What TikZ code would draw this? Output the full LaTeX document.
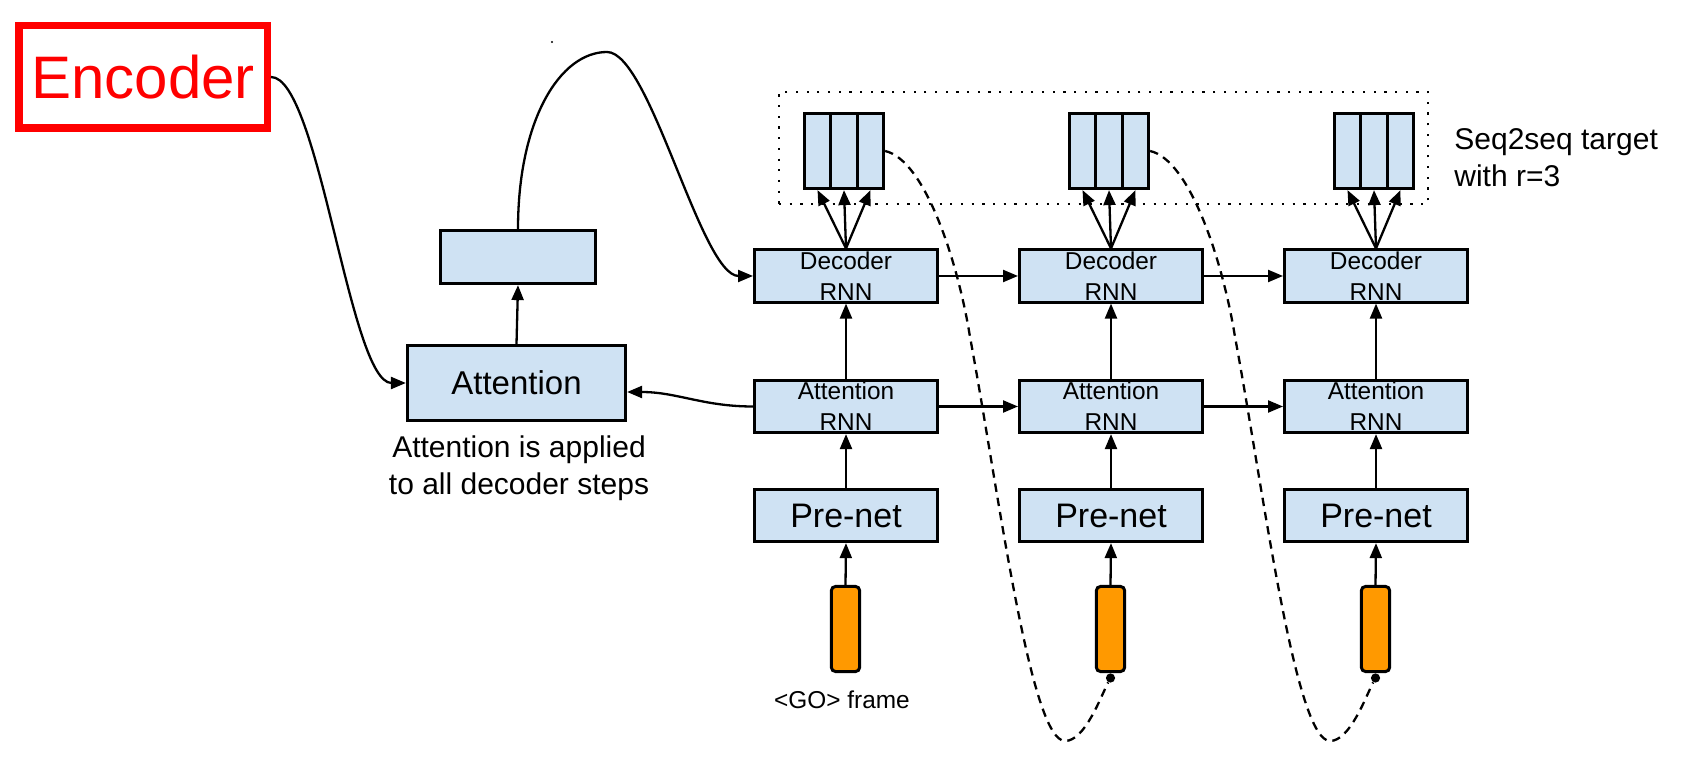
\documentclass[tikz,border=0pt]{standalone}
\usepackage{fontspec}
\setmainfont{Liberation Sans}
\usetikzlibrary{arrows.meta}
\definecolor{boxblue}{HTML}{CFE2F3}
\definecolor{frameorange}{HTML}{FF9900}
\definecolor{encred}{HTML}{FF0000}
\newcommand\decfnt{\fontsize{12.2}{15.5}\selectfont}
\newcommand\prefnt{\fontsize{17}{20}\selectfont}
\begin{document}
\begin{tikzpicture}[x=0.5pt,y=-0.5pt,
  arr/.style={line width=1.15pt,-{Triangle[length=7.5pt,width=6pt]}},
  blk/.style={draw, line width=1.5pt, fill=boxblue, inner sep=0pt,
    minimum width=91.5pt, minimum height=26.1pt, align=center},
  cell/.style={draw, line width=1.5pt, fill=boxblue, inner sep=0pt,
    minimum width=13.1pt, minimum height=37.6pt},
  orng/.style={draw, line width=1.5pt, fill=frameorange, inner sep=0pt,
    rounded corners=2pt, minimum width=14.1pt, minimum height=42.5pt},
  dotn/.style={circle, fill=black, inner sep=0pt, minimum size=4.6pt},
  dsh/.style={line width=1.15pt, dash pattern=on 4.2pt off 3pt},
  tgt/.style={draw, line width=1.2pt, dash pattern=on 1.1pt off 4.25pt, inner sep=0pt},
  lbl/.style={inner sep=0pt}
]
\useasboundingbox (0,0) rectangle (1685,763);

% encoder
\node[draw=encred, line width=3.75pt, text=encred, inner sep=0pt,
  minimum width=124.25pt, minimum height=51.25pt,
  font=\fontsize{30}{34}\selectfont] (enc) at (143,77) {Encoder};

% attention and context box
\node[blk, minimum width=109.1pt, minimum height=37.6pt,
  font=\fontsize{16.5}{19}\selectfont] (att) at (516.5,383) {Attention};
\node[blk, minimum width=77.6pt, minimum height=26.6pt] (ctx) at (518,257) {};
\node[lbl, anchor=base, font=\fontsize{15}{18}\selectfont] (note1) at (519,458) {Attention is applied};
\node[lbl, anchor=base, font=\fontsize{15}{18}\selectfont] (note2) at (519,495) {to all decoder steps};

% target dotted box
\node[tgt, minimum width=324.5pt, minimum height=56pt] (tgt) at (1103.5,148) {};
\node[lbl, anchor=base west, font=\fontsize{15}{18}\selectfont] (seq1) at (1454,150) {Seq2seq target};
\node[lbl, anchor=base west, font=\fontsize{15}{18}\selectfont] (seq2) at (1454,187) {with r=3};

\foreach \i/\cx in {1/846,2/1111,3/1376} {
  \node[blk, font=\decfnt] (dec\i) at (\cx,276) {Decoder\\RNN};
  \node[blk, font=\decfnt] (arnn\i) at (\cx,406.5) {Attention\\RNN};
  \node[blk, font=\prefnt] (pre\i) at (\cx,515.5) {Pre-net};
  \node[orng] (or\i) at (\cx-0.5,629) {};
  \node[cell] (f\i-a) at (\cx-28.5,151) {};
  \node[cell] (f\i-b) at (\cx-2,151) {};
  \node[cell] (f\i-c) at (\cx+24.5,151) {};
  \draw[arr] (dec\i.north) -- (f\i-a.south);
  \draw[arr] (dec\i.north) -- (f\i-b.south);
  \draw[arr] (dec\i.north) -- (f\i-c.south);
  \draw[arr] (arnn\i.north) -- (dec\i.south);
  \draw[arr] (pre\i.north) -- (arnn\i.south);
  \draw[arr] (or\i.north) -- (pre\i.south);
}
\foreach \i/\j in {1/2,2/3} {
  \draw[arr] (dec\i.east) -- (dec\j.west);
  \draw[arr] (arnn\i.east) -- (arnn\j.west);
}
\node[lbl, anchor=base, font=\fontsize{12.2}{14}\selectfont] (go) at (842,708) {<GO> frame};

% feedback dashed curves
\foreach \i/\j/\ox in {1/2/0,2/3/265} {
  \node[dotn] (dot\j) at ([yshift=-2.5pt]or\j.south) {};
  \draw[dsh] (f\i-c.east) .. controls ({925+\ox},160) and ({958+\ox},262) .. ({970+\ox},337)
     .. controls ({998+\ox},487) and ({1030+\ox},741) .. ({1065+\ox},741)
     .. controls ({1085+\ox},741) and ({1101+\ox},696) .. (dot\j);
}

% connectors on the left
\draw[arr] (enc.east) .. controls +(48,0) and +(-56,0) .. (att.west);
\draw[arr] (arnn1.west) .. controls +(-50,0) and +(50,0) .. ([yshift=-4.5pt]att.east);
\draw[arr] (att.north) -- (ctx.south);
\coordinate (peak) at (607,52);
\draw[arr] (ctx.north) .. controls +(0,-109) and +(-47,0) .. (peak)
   .. controls +(43,0) and +(-52,0) .. (dec1.west);
\fill (552,42) circle (0.6pt);
\end{tikzpicture}
\end{document}
